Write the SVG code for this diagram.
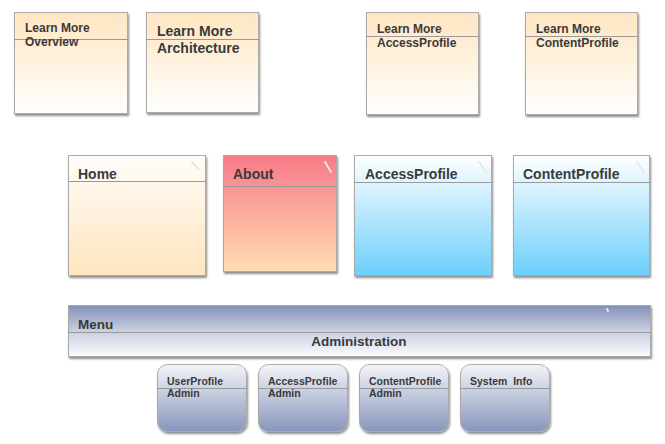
<svg xmlns="http://www.w3.org/2000/svg" width="665" height="444" viewBox="0 0 665 444">
<defs>
<linearGradient id="gOrange" x1="0" y1="0" x2="0" y2="1"><stop offset="0" stop-color="#ffe6c0"/><stop offset="1" stop-color="#ffffff"/></linearGradient>
<linearGradient id="gHome" x1="0" y1="0" x2="0" y2="1"><stop offset="0" stop-color="#fffdf9"/><stop offset="1" stop-color="#ffe5bf"/></linearGradient>
<linearGradient id="gAbout" x1="0" y1="0" x2="0" y2="1"><stop offset="0" stop-color="#f77a88"/><stop offset="1" stop-color="#ffdcb2"/></linearGradient>
<linearGradient id="gBlue" x1="0" y1="0" x2="0" y2="1"><stop offset="0" stop-color="#ffffff"/><stop offset="1" stop-color="#6ccffc"/></linearGradient>
<linearGradient id="gMenu" x1="0" y1="0" x2="0" y2="1"><stop offset="0" stop-color="#8191b8"/><stop offset="0.5" stop-color="#c8cfe1"/><stop offset="1" stop-color="#fbfbfd"/></linearGradient>
<linearGradient id="gAdmin" x1="0" y1="0" x2="0" y2="1"><stop offset="0" stop-color="#f4f5f9"/><stop offset="1" stop-color="#8796bc"/></linearGradient>
<filter id="sh" x="-10%" y="-10%" width="125%" height="130%"><feDropShadow dx="1" dy="2" stdDeviation="1.2" flood-color="#000" flood-opacity="0.45"/></filter>
</defs>
<style>
.box{stroke:#aaaaaa;stroke-width:1;filter:url(#sh)}
.div{stroke:#999999;stroke-width:1}
.t{font-family:"Liberation Sans",Arial,sans-serif;font-weight:bold;fill:#3a3a3a}
.pen{stroke:#e8e8e8;stroke-width:2;stroke-linecap:round}
</style>
<g id="learn-overview">
<rect class="box" x="14.5" y="12.5" width="113" height="101" fill="url(#gOrange)"/>
<line class="div" x1="14" y1="39.5" x2="128" y2="39.5"/>
<line class="pen" x1="117" y1="18" x2="123" y2="24"/>
<text class="t" x="25" y="32" font-size="12">Learn More</text>
<text class="t" x="25" y="46" font-size="12">Overview</text>
</g>
<g id="learn-architecture">
<rect class="box" x="146.5" y="12.5" width="112" height="100" fill="url(#gOrange)"/>
<line class="div" x1="146" y1="39.5" x2="259" y2="39.5"/>
<line class="pen" x1="248" y1="18" x2="254" y2="24"/>
<text class="t" x="157" y="36" font-size="14">Learn More</text>
<text class="t" x="157" y="53" font-size="14">Architecture</text>
</g>
<g id="learn-accessprofile">
<rect class="box" x="366.5" y="12.5" width="112" height="102" fill="url(#gOrange)"/>
<line class="div" x1="366" y1="36.5" x2="479" y2="36.5"/>
<line class="pen" x1="468" y1="18" x2="474" y2="25"/>
<text class="t" x="377" y="33" font-size="12">Learn More</text>
<text class="t" x="377" y="47" font-size="12">AccessProfile</text>
</g>
<g id="learn-contentprofile">
<rect class="box" x="525.5" y="12.5" width="112" height="102" fill="url(#gOrange)"/>
<line class="div" x1="525" y1="36.5" x2="638" y2="36.5"/>
<line class="pen" x1="627" y1="18" x2="633" y2="25"/>
<text class="t" x="536" y="33" font-size="12">Learn More</text>
<text class="t" x="536" y="47" font-size="12">ContentProfile</text>
</g>
<g id="home">
<rect class="box" x="68.5" y="155.5" width="137" height="120" fill="url(#gHome)"/>
<line class="div" x1="68" y1="181.5" x2="206" y2="181.5"/>
<line class="pen" x1="192" y1="162" x2="199" y2="170" stroke="#e9e3d8"/>
<text class="t" x="78" y="179" font-size="14">Home</text>
</g>
<g id="about">
<rect class="box" x="223.5" y="155.5" width="113" height="116" fill="url(#gAbout)"/>
<line class="div" x1="223" y1="186.5" x2="337" y2="186.5"/>
<line class="pen" x1="325" y1="162" x2="331" y2="172" stroke="#ffffff"/>
<text class="t" x="233" y="179" font-size="14">About</text>
</g>
<g id="accessprofile">
<rect class="box" x="354.5" y="155.5" width="137" height="120" fill="url(#gBlue)"/>
<line class="div" x1="354" y1="182.5" x2="492" y2="182.5"/>
<line class="pen" x1="479" y1="162" x2="486" y2="172" stroke="#cfe8f3"/>
<text class="t" x="365" y="179" font-size="14">AccessProfile</text>
</g>
<g id="contentprofile">
<rect class="box" x="513.5" y="155.5" width="136" height="120" fill="url(#gBlue)"/>
<line class="div" x1="513" y1="182.5" x2="650" y2="182.5"/>
<line class="pen" x1="637" y1="162" x2="644" y2="172" stroke="#cfe8f3"/>
<text class="t" x="523" y="179" font-size="14">ContentProfile</text>
</g>
<g id="menu">
<rect class="box" x="68.5" y="305.5" width="582" height="51" fill="url(#gMenu)"/>
<line class="div" x1="68" y1="332.5" x2="651" y2="332.5"/>
<line class="pen" x1="607" y1="309" x2="608" y2="311" stroke="#ffffff"/>
<text class="t" x="78" y="329" font-size="13.5">Menu</text>
<text class="t" x="359" y="346" font-size="13.5" text-anchor="middle">Administration</text>
</g>
<g id="userprofile-admin">
<rect class="box" x="157.5" y="364.5" width="89" height="67" rx="10" fill="url(#gAdmin)"/>
<line class="div" x1="157" y1="388.5" x2="247" y2="388.5"/>
<line class="pen" x1="237" y1="370" x2="242" y2="366" stroke="#ffffff" stroke-width="1"/>
<text class="t" x="167" y="385" font-size="10.5">UserProfile</text>
<text class="t" x="167" y="397" font-size="10.5">Admin</text>
</g>
<g id="accessprofile-admin">
<rect class="box" x="258.5" y="364.5" width="89" height="67" rx="10" fill="url(#gAdmin)"/>
<line class="div" x1="258" y1="388.5" x2="348" y2="388.5"/>
<line class="pen" x1="338" y1="370" x2="343" y2="366" stroke="#ffffff" stroke-width="1"/>
<text class="t" x="268" y="385" font-size="10.5">AccessProfile</text>
<text class="t" x="268" y="397" font-size="10.5">Admin</text>
</g>
<g id="contentprofile-admin">
<rect class="box" x="359.5" y="364.5" width="89" height="67" rx="10" fill="url(#gAdmin)"/>
<line class="div" x1="359" y1="388.5" x2="449" y2="388.5"/>
<line class="pen" x1="439" y1="370" x2="444" y2="366" stroke="#ffffff" stroke-width="1"/>
<text class="t" x="369" y="385" font-size="10.5">ContentProfile</text>
<text class="t" x="369" y="397" font-size="10.5">Admin</text>
</g>
<g id="system-info">
<rect class="box" x="460.5" y="364.5" width="89" height="67" rx="10" fill="url(#gAdmin)"/>
<line class="div" x1="460" y1="388.5" x2="550" y2="388.5"/>
<line class="pen" x1="540" y1="370" x2="545" y2="366" stroke="#ffffff" stroke-width="1"/>
<text class="t" x="470" y="385" font-size="10.5" xml:space="preserve">System  Info</text>
</g>
<g id="connectors"/>
</svg>
